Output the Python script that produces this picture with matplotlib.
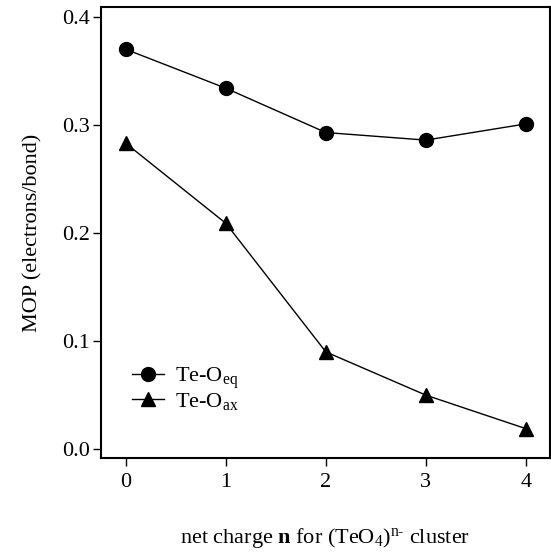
import matplotlib
matplotlib.use("Agg")
from matplotlib import pyplot as plt

charge = [0, 1, 2, 3, 4]
mop_eq = [0.370, 0.334, 0.293, 0.286, 0.301]
mop_ax = [0.283, 0.209, 0.090, 0.050, 0.019]

plt.rcParams["font.family"] = ["Liberation Serif", "DejaVu Serif"]
plt.rcParams["mathtext.fontset"] = "custom"
plt.rcParams["mathtext.rm"] = "Liberation Serif"
plt.rcParams["mathtext.it"] = "Liberation Serif"
plt.rcParams["mathtext.bf"] = "Liberation Serif:bold"

fig = plt.figure(figsize=(5.51, 5.52), dpi=100)
ax = fig.add_axes([0.183, 0.170, 0.815, 0.817])

ax.plot(charge, mop_eq, color="black", lw=1, marker="o", ms=10, label=r"Te-O$_{\mathrm{eq}}$")
ax.plot(charge, mop_ax, color="black", lw=1, marker="^", ms=10, label=r"Te-O$_{\mathrm{ax}}$")

ax.set_xlim(-0.25, 4.24)
ax.set_ylim(-0.0083, 0.409)
ax.set_xticks([0, 1, 2, 3, 4])
ax.set_yticks([0.0, 0.1, 0.2, 0.3, 0.4])
ax.set_yticklabels(["0.0", "0.1", "0.2", "0.3", "0.4"])
ax.tick_params(direction="out", length=6, width=1, labelsize=16, colors="black")
ax.tick_params(axis="x", pad=5)
ax.tick_params(axis="y", pad=2)
for s in ax.spines.values():
    s.set_linewidth(1.5)

ax.set_ylabel("MOP (electrons/bond)", fontsize=16, labelpad=14)
ax.set_xlabel(r"net charge $\mathbf{n}$ for (TeO$_4$)$^{\mathrm{n}\text{-}}$ cluster", fontsize=16, labelpad=24)

ax.legend(loc="upper left", bbox_to_anchor=(0.069, 0.205), borderaxespad=0, borderpad=0,
          frameon=False, fontsize=16, handlelength=1.45, handletextpad=0.5, labelspacing=0.0)

fig.savefig("out.png", dpi=100)
